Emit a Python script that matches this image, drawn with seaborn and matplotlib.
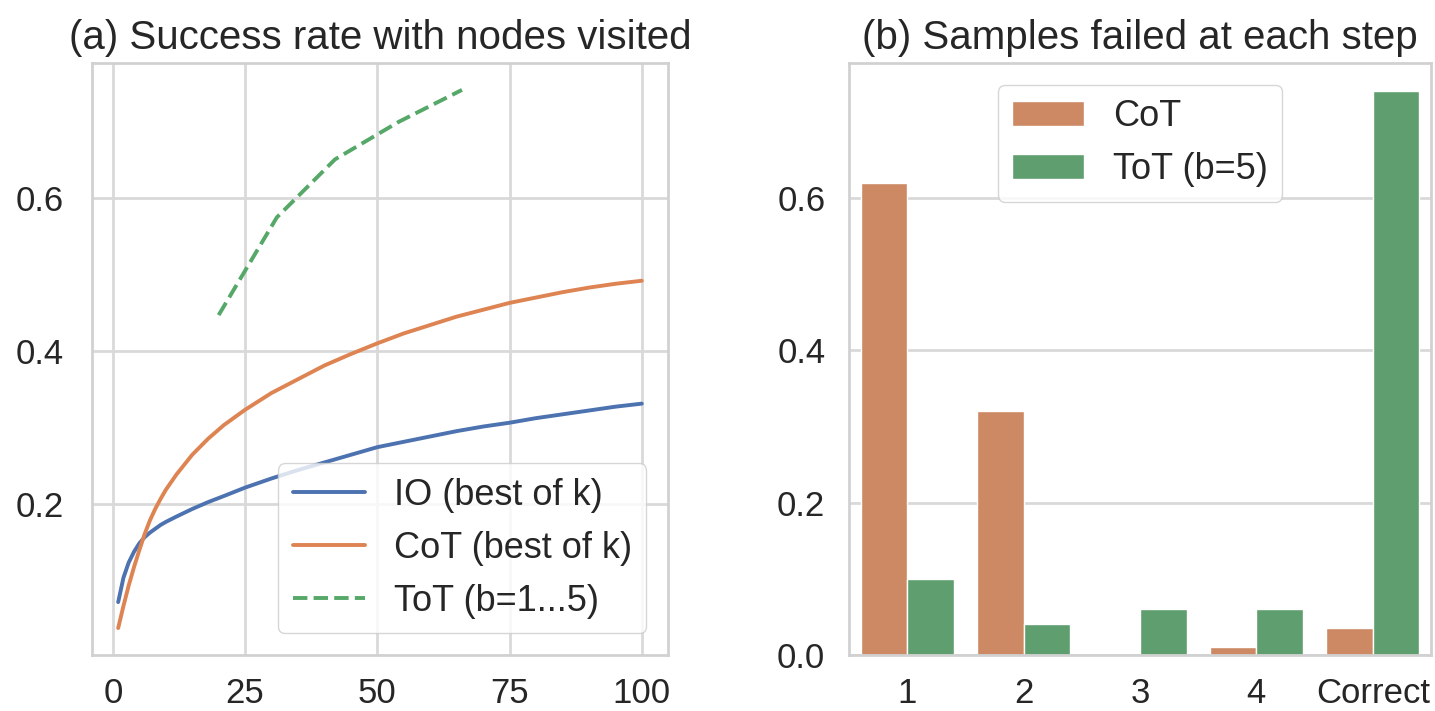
import pandas as pd
import seaborn as sns
import matplotlib
matplotlib.use("Agg")
import matplotlib.pyplot as plt

# (a) success rate vs nodes visited
k_nodes = [1, 2, 3, 4, 5, 6, 7, 8, 9, 10, 12, 15, 18, 21, 25, 30, 35, 40, 45, 50,
           55, 60, 65, 70, 75, 80, 85, 90, 95, 100]
io_best = [0.071, 0.103, 0.123, 0.137, 0.148, 0.156, 0.162, 0.167, 0.172, 0.176,
           0.183, 0.193, 0.202, 0.210, 0.221, 0.233, 0.244, 0.254, 0.264, 0.274,
           0.281, 0.288, 0.295, 0.301, 0.306, 0.312, 0.317, 0.322, 0.327, 0.331]
cot_best = [0.037, 0.066, 0.093, 0.117, 0.139, 0.160, 0.178, 0.193, 0.206, 0.218,
            0.238, 0.264, 0.285, 0.303, 0.323, 0.345, 0.363, 0.381, 0.396, 0.410,
            0.423, 0.434, 0.445, 0.454, 0.463, 0.470, 0.477, 0.483, 0.488, 0.492]
tot_nodes = [20, 31, 42, 54, 66]
tot_rate = [0.447, 0.575, 0.651, 0.700, 0.742]

# (b) samples failed at each step
steps = ["1", "2", "3", "4", "Correct"]
cot_fail = [0.62, 0.32, 0.0, 0.01, 0.035]
tot_fail = [0.10, 0.04, 0.06, 0.06, 0.74]

sns.set_theme(style="whitegrid")
plt.rcParams["font.family"] = ["Liberation Sans", "DejaVu Sans"]
plt.rcParams["axes.edgecolor"] = "0.82"
plt.rcParams["axes.linewidth"] = 2
plt.rcParams["grid.linewidth"] = 2
plt.rcParams["grid.color"] = "0.85"

deep = sns.color_palette("deep")

fig = plt.figure(figsize=(14.35, 7.11), dpi=100)
ax1 = fig.add_axes([0.0641, 0.0788, 0.4014, 0.8326])
ax2 = fig.add_axes([0.5916, 0.0788, 0.4056, 0.8326])

sns.lineplot(x=k_nodes, y=io_best, ax=ax1, color=deep[0], lw=2.8, label="IO (best of k)")
sns.lineplot(x=k_nodes, y=cot_best, ax=ax1, color=deep[1], lw=2.8, label="CoT (best of k)")
sns.lineplot(x=tot_nodes, y=tot_rate, ax=ax1, color=deep[2], lw=2.8, ls="--",
             label="ToT (b=1...5)")
ax1.set_xticks([0, 25, 50, 75, 100])
ax1.set_yticks([0.2, 0.4, 0.6])
ax1.set_title("(a) Success rate with nodes visited", fontsize=29, pad=10)
ax1.tick_params(labelsize=25)
ax1.tick_params(axis="x", pad=10)
ax1.tick_params(axis="y", pad=14)
ax1.legend(loc="lower right", fontsize=26, borderaxespad=0.6)

df = pd.DataFrame({
    "step": steps * 2,
    "rate": cot_fail + tot_fail,
    "method": ["CoT"] * len(steps) + ["ToT (b=5)"] * len(steps),
})
sns.barplot(data=df, x="step", y="rate", hue="method", ax=ax2,
            palette=[deep[1], deep[2]])
ax2.set_xlabel("")
ax2.set_ylabel("")
ax2.set_yticks([0.0, 0.2, 0.4, 0.6])
ax2.set_title("(b) Samples failed at each step", fontsize=29, pad=10)
ax2.tick_params(labelsize=25)
ax2.tick_params(axis="x", pad=10)
ax2.tick_params(axis="y", pad=11)
ax2.legend(loc="upper center", fontsize=26, borderaxespad=0.6)
ax2.grid(axis="x", visible=False)

fig.savefig("out.png", dpi=100)
